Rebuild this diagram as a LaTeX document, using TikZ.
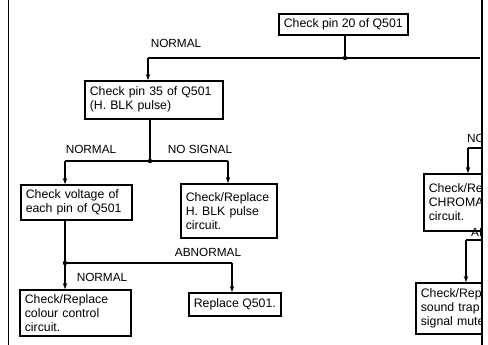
\documentclass[tikz,border=0pt]{standalone}
\usepackage{fontspec}
\setmainfont{Liberation Sans}
\usetikzlibrary{arrows.meta}
\tikzset{
  box/.style={draw, line width=1.6pt, anchor=north west, inner xsep=5pt, inner ysep=2pt,
    align=left, font=\fontsize{12.3}{14}\selectfont},
  lbl/.style={font=\fontsize{11.8}{13}\selectfont, inner sep=0pt},
  wire/.style={line width=1.5pt},
  arr/.style={wire, -{Stealth[length=6pt,width=4.5pt]}},
  dot/.style={circle, fill, inner sep=0pt, minimum size=4.5pt},
  border/.style={line width=1.8pt}
}
\begin{document}
\begin{tikzpicture}[x=1pt,y=-1pt]
\useasboundingbox (0,0) rectangle (488,345);
% borders
\draw[border] (8.5,0) -- (8.5,345);
\draw[border] (482,0) -- (482,345);
% boxes
\node[box, align=center, minimum width=128pt, minimum height=21pt] (b20) at (278,13) {Check pin 20 of Q501};
\node[box, text width=128pt, minimum height=38pt] (b35) at (84,80) {Check pin 35 of Q501\\(H. BLK pulse)};
\node[box, text width=101pt, minimum height=35pt] (bvolt) at (20,184) {Check voltage of\\each pin of Q501};
\node[box, text width=86pt, minimum height=54pt] (bhblk) at (180,183) {Check/Replace\\H. BLK pulse\\circuit.};
\node[box, text width=101pt, minimum height=46pt] (bcol) at (19,289) {Check/Replace\\colour control\\circuit.};
\node[box, minimum width=89pt, minimum height=23pt] (bq) at (188,292) {Replace Q501.};
% junctions
\coordinate (j1) at (345,58);
\coordinate (j1l) at (148,58);
\coordinate (j1r) at (480,58);
\coordinate (j2) at (150,161);
\coordinate (j2l) at (65,161);
\coordinate (j2r) at (228,161);
\coordinate (j3) at (65,263);
\coordinate (j3r) at (232,263);
% connectors
\draw[wire] (b20.south -| j1) -- (j1);
\draw[wire] (j1l) -- (j1r);
\node[dot] (d1) at (j1) {};
\draw[arr] (j1l) -- (j1l |- b35.north);
\node[lbl] (n1) at (176,43) {NORMAL};

\draw[wire] (b35.south -| j2) -- (j2);
\draw[wire] (j2l) -- (j2r);
\node[dot] (d2) at (j2) {};
\draw[arr] (j2l) -- (j2l |- bvolt.north);
\draw[arr] (j2r) -- (j2r |- bhblk.north);
\node[lbl] (n2) at (91,149) {NORMAL};
\node[lbl] (n3) at (200,149) {NO SIGNAL};

\draw[wire] (bvolt.south -| j3) -- (j3);
\draw[wire] (j3) -- (j3r);
\node[dot] (d3) at (j3) {};
\draw[arr] (j3) -- (j3 |- bcol.north);
\draw[arr] (j3r) -- (j3r |- bq.north);
\node[lbl] (n4) at (208,252) {ABNORMAL};
\node[lbl] (n5) at (102,277) {NORMAL};

% right clipped part
\begin{scope}
\clip (0,0) rectangle (481,345);
\node[box, text width=80pt, minimum height=57pt] (bchroma) at (423,173) {Check/Replace\\CHROMA\\circuit.};
\node[box, text width=80pt, minimum height=51pt] (bsound) at (415,282) {Check/Replace\\sound trap\\signal mute};
\coordinate (r1) at (481,148);
\coordinate (r1b) at (468,148);
\coordinate (r2) at (481,240);
\coordinate (r2b) at (466,240);
\draw[wire] (r1) -- (r1b);
\draw[arr] (r1b) -- (r1b |- bchroma.north);
\draw[wire] (r2) -- (r2b);
\draw[arr] (r2b) -- (r2b |- bsound.north);
\node[lbl, anchor=west] (n6) at (467,138) {NO SIGNAL};
\node[lbl, anchor=west] (n7) at (471,232) {ABNORMAL};
\end{scope}
\end{tikzpicture}
\end{document}
